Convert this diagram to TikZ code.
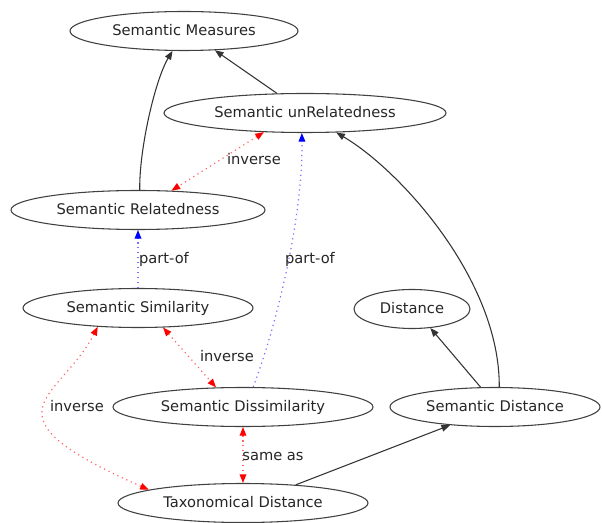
\documentclass[tikz,border=0pt]{standalone}
\usepackage{fontspec}
\setmainfont{DejaVu Sans}
\usetikzlibrary{arrows.meta,shapes.geometric}
\begin{document}
\begin{tikzpicture}[x=0.75pt,y=-0.75pt,
  every node/.style={font=\fontsize{11}{13}\selectfont, text=black!85},
  concept/.style={ellipse, draw=black!75, line width=0.8pt, inner sep=0pt,
    minimum height=29.25pt, text height=0.73em, text depth=0pt},
  lbl/.style={inner sep=0pt, text height=0.73em, text depth=0pt},
  solidarrow/.style={draw=black!80, line width=0.8pt, -{Triangle[length=6.5pt,width=5pt]}},
  partof/.style={draw=blue!55, line width=0.9pt, dash pattern=on 0.9pt off 2.8pt,
    -{Triangle[length=6.5pt,width=5pt,color=blue]}},
  inv/.style={draw=red!60, line width=0.9pt, dash pattern=on 0.9pt off 2.8pt,
    {Triangle[length=6.5pt,width=5pt,color=red]}-{Triangle[length=6.5pt,width=5pt,color=red]}}
]
\fill[white] (0,0) rectangle (602,523);
\useasboundingbox (0,0) rectangle (602,523);

\node[concept, minimum width=171pt]   (meas)  at (184,31)  {Semantic Measures};
\node[concept, minimum width=211.5pt] (unrel) at (305,113) {Semantic unRelatedness};
\node[concept, minimum width=190.5pt] (rel)   at (138,210) {Semantic Relatedness};
\node[concept, minimum width=172.5pt] (sim)   at (138,308) {Semantic Similarity};
\node[concept, minimum width=87pt]    (dist)  at (412,309) {Distance};
\node[concept, minimum width=195pt]   (dis)   at (243,407) {Semantic Dissimilarity};
\node[concept, minimum width=157.5pt] (sdist) at (495,407) {Semantic Distance};
\node[concept, minimum width=187.5pt] (tax)   at (243,503) {Taxonomical Distance};

\draw[solidarrow] (rel.85) .. controls (139,150) and (155,80) .. (meas.240);
\draw[solidarrow] (unrel.145) -- (meas.-32);
\draw[inv] (unrel.205) -- (rel.30);
\draw[partof] (sim.north) -- (rel.south);
\draw[partof] (dis.63) .. controls (275,330) and (303,220) .. (unrel.261);
\draw[inv] (sim.-38) -- (dis.144);
\draw[inv] (sim.205) .. controls (60,400) and (-25,413) .. (tax.172);
\draw[inv] (dis.south) -- (tax.north);
\draw[solidarrow] (tax.19) -- (sdist.202);
\draw[solidarrow] (sdist.126) -- (dist.-46);
\draw[solidarrow] (sdist.78) .. controls (500,280) and (400,170) .. (unrel.-32);

\node[lbl] (l1) at (254,160) {inverse};
\node[lbl] (l2) at (164,259) {part-of};
\node[lbl] (l3) at (310,259) {part-of};
\node[lbl] (l4) at (227,357) {inverse};
\node[lbl] (l5) at (77,407)  {inverse};
\node[lbl] (l6) at (273,456) {same as};
\end{tikzpicture}
\end{document}
